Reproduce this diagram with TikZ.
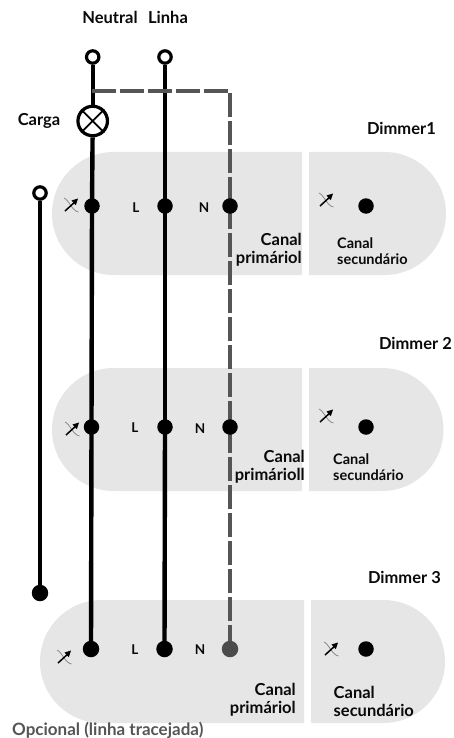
\documentclass[tikz,border=0pt]{standalone}
\usepackage{fontspec}
\setmainfont{Lato}[BoldFont={Lato Bold}]
\pgfdeclarelayer{pills}
\pgfdeclarelayer{wires}
\pgfsetlayers{pills,wires,main}
\begin{document}
\definecolor{pillc}{HTML}{E6E6E6}
\definecolor{dashc}{HTML}{555555}
\definecolor{txtc}{HTML}{0A0A0A}
\tikzset{
 x=1pt,y=-1pt,
 pill/.style={fill=pillc,draw=none},
 wire/.style={line width=4.4pt,black},
 optwire/.style={line width=4.4pt,dashc,dash pattern=on 24pt off 4pt},
 term/.style={circle,fill=black,minimum size=15.5pt,inner sep=0pt},
 termb/.style={circle,fill=black,minimum size=16.5pt,inner sep=0pt},
 termg/.style={circle,fill=dashc!90!black,minimum size=16.5pt,inner sep=0pt},
 openterm/.style={circle,draw=black,fill=white,line width=3.2pt,minimum size=12.4pt,inner sep=0pt},
 lampnode/.style={circle,draw=black,fill=white,line width=3.2pt,minimum size=29.5pt,inner sep=0pt},
 lbl/.style={font=\bfseries\fontsize{16.5}{18}\selectfont,text=txtc,inner sep=0pt},
 lbls/.style={font=\bfseries\fontsize{14.5}{15.5}\selectfont,text=txtc,inner sep=0pt},
 pin/.style={font=\bfseries\fontsize{13.5}{14}\selectfont,text=txtc,inner sep=0pt},
}
\newcommand{\dimsym}[1]{%
 \begin{scope}[shift={(#1)}]
  \draw[black!50,line width=.7pt] (-7,-7) .. controls (-2,-5) and (1,6) .. (7.5,7);
  \draw[black,line width=1.5pt] (-6,6) -- (5,-4);
  \fill[black] (7,-6.5) -- (0.5,-4.5) -- (4.8,0.2) -- cycle;
 \end{scope}}
\begin{tikzpicture}
\useasboundingbox (0,0) rectangle (454,738);
% pills
\begin{pgfonlayer}{pills}
\fill[pill] (302,152) -- (113.5,152) arc[start angle=270,end angle=90,radius=61.5] -- (302,275) -- cycle;
\fill[pill] (309,152) -- (384.5,152) arc[start angle=-90,end angle=90,radius=61.5] -- (309,275) -- cycle;
\fill[pill] (302,368) -- (113.5,368) arc[start angle=270,end angle=90,radius=61.5] -- (302,491) -- cycle;
\fill[pill] (309,368) -- (382,368) arc[start angle=-90,end angle=90,radius=61.5] -- (309,491) -- cycle;
\fill[pill] (304,600) -- (101.5,600) arc[start angle=270,end angle=90,radius=61.5] -- (304,723) -- cycle;
\fill[pill] (311,600) -- (383.5,600) arc[start angle=-90,end angle=90,radius=61.5] -- (311,723) -- cycle;
\end{pgfonlayer}
% nodes
\coordinate (branch) at (92,91);
\coordinate (corner) at (230,91);
\node[openterm] (neu) at (92.7,57) {};
\node[openterm] (lin) at (165,57) {};
\node[openterm] (aux) at (40,193) {};
\node[termb] (auxend) at (40,593) {};
\node[lampnode] (lamp) at (92.7,121) {};
\node[term] (a1) at (92,206) {};
\node[term] (b1) at (165,206) {};
\node[term] (c1) at (230,206) {};
\node[term] (d1) at (366,206) {};
\node[term] (a2) at (91.5,427) {};
\node[term] (b2) at (165,427) {};
\node[term] (c2) at (230,427) {};
\node[term] (d2) at (366,427) {};
\node[termb] (a3) at (91,649) {};
\node[termb] (b3) at (164.5,649) {};
\node[termg] (c3) at (230,649) {};
\node[term] (d3) at (366,649) {};
% connectors
\begin{pgfonlayer}{wires}
\draw[wire] (neu) -- (lamp);
\draw[wire] (lamp) -- (a1.center);
\draw[wire] (a1.center) -- (a2.center);
\draw[wire] (a2.center) -- (a3.center);
\draw[wire] (lin) -- (b1.center);
\draw[wire] (b1.center) -- (b2.center);
\draw[wire] (b2.center) -- (b3.center);
\draw[wire] (aux) -- (auxend);
\draw[optwire] (branch) -- (corner) -- (c3.center);
\end{pgfonlayer}
% lamp cross
\draw[black,line width=1.8pt] (lamp.135) -- (lamp.-45) (lamp.45) -- (lamp.-135);
% dimmer symbols
\dimsym{71,205}
\dimsym{326,200}
\dimsym{72,429}
\dimsym{326,416}
\dimsym{64,657}
\dimsym{331,649}
% labels
\node[lbl,anchor=base] (tneu) at (110,23.5) {Neutral};
\node[lbl,anchor=base] (tlin) at (168,23.5) {Linha};
\node[lbl,anchor=base] (tcar) at (39,125.5) {Carga};
\node[lbl,anchor=base east] (t1) at (436,134.5) {Dimmer1};
\node[lbl,anchor=base east] (t2) at (452,349.5) {Dimmer 2};
\node[lbl,anchor=base east] (t3) at (441,583.5) {Dimmer 3};
\node[pin,anchor=base] (l1) at (136,212) {L};
\node[pin,anchor=base] (n1) at (204,212) {N};
\node[pin,anchor=base] (l2) at (135,432) {L};
\node[pin,anchor=base] (n2) at (200,433) {N};
\node[pin,anchor=base] (l3) at (135,654) {L};
\node[pin,anchor=base] (n3) at (200,654) {N};
\node[lbl,align=right,anchor=east] (p1) at (302,250) {Canal\\primáriol};
\node[lbl,align=right,anchor=east] (p2) at (305,467) {Canal\\primárioll};
\node[lbl,align=right,anchor=east] (p3) at (296,700) {Canal\\primáriol};
\node[lbls,align=left,anchor=west] (s1) at (337,251) {Canal\\secundário};
\node[lbls,align=left,anchor=west] (s2) at (333,467) {Canal\\secundário};
\node[lbl,align=left,anchor=west] (s3) at (333.5,701) {Canal\\secundário};
\node[lbl,anchor=base west,text=dashc,font=\bfseries\fontsize{17}{18}\selectfont] (opt) at (12,735) {Opcional (linha tracejada)};
\end{tikzpicture}
\end{document}
